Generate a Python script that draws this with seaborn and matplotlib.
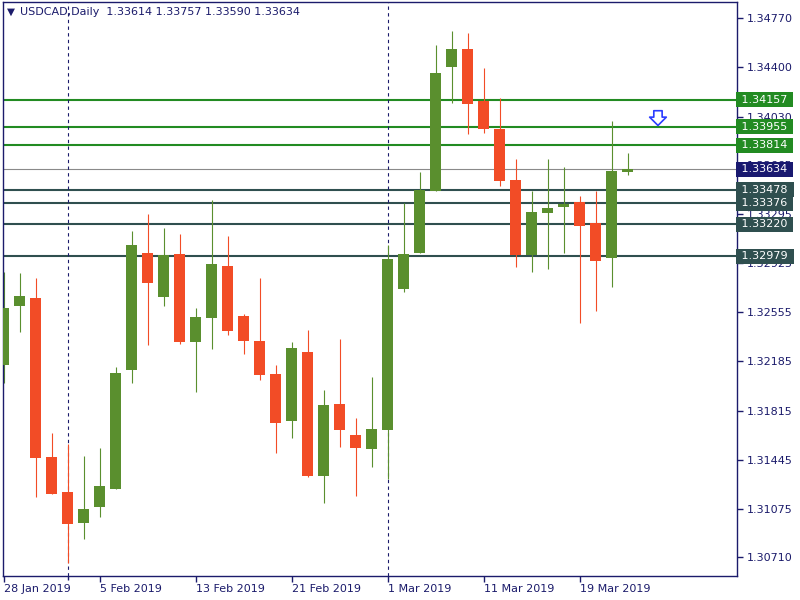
import numpy as np
import pandas as pd
import matplotlib
matplotlib.use("Agg")
import matplotlib.pyplot as plt
import seaborn as sns

# daily candles, 28 Jan - 22 Mar 2019
dates = pd.bdate_range("2019-01-28", "2019-03-22")

opens = [1.32161, 1.32605, 1.32663, 1.31466, 1.31202, 1.30965, 1.31091, 1.31227, 1.32123, 1.33002,
         1.32673, 1.32995, 1.32334, 1.32515, 1.32904, 1.32528, 1.32339, 1.32091, 1.31739, 1.32257,
         1.31325, 1.31865, 1.31631, 1.31528, 1.31671, 1.32733, 1.33000, 1.33472, 1.34405, 1.34539,
         1.34147, 1.33938, 1.33552, 1.32987, 1.33301, 1.33346, 1.33386, 1.33228, 1.32967, 1.33614]
highs = [1.32861, 1.32854, 1.32816, 1.31649, 1.31564, 1.31476, 1.31536, 1.32141, 1.33168, 1.33298,
         1.33191, 1.33145, 1.32588, 1.33401, 1.33130, 1.32543, 1.32816, 1.32159, 1.32332, 1.32422,
         1.31970, 1.32355, 1.31762, 1.32068, 1.33063, 1.33377, 1.33612, 1.34569, 1.34674, 1.34659,
         1.34396, 1.34167, 1.33710, 1.33472, 1.33710, 1.33652, 1.33432, 1.33472, 1.33997, 1.33757]
lows = [1.32021, 1.32409, 1.31167, 1.31185, 1.30670, 1.30850, 1.31014, 1.31227, 1.32025, 1.32312,
        1.32605, 1.32319, 1.31958, 1.32281, 1.32387, 1.32244, 1.32048, 1.31498, 1.31611, 1.31317,
        1.31122, 1.31543, 1.31174, 1.31393, 1.31298, 1.32711, 1.33000, 1.33472, 1.34134, 1.33901,
        1.33908, 1.33509, 1.32899, 1.32861, 1.32884, 1.33005, 1.32477, 1.32568, 1.32748, 1.33590]
closes = [1.32586, 1.32678, 1.31460, 1.31189, 1.30963, 1.31074, 1.31247, 1.32098, 1.33063, 1.32779,
          1.32987, 1.32332, 1.32520, 1.32919, 1.32417, 1.32342, 1.32086, 1.31724, 1.32287, 1.31325,
          1.31857, 1.31671, 1.31536, 1.31677, 1.32957, 1.32995, 1.33477, 1.34358, 1.34539, 1.34127,
          1.33938, 1.33547, 1.32987, 1.33311, 1.33341, 1.33371, 1.33208, 1.32944, 1.33620, 1.33634]

# horizontal levels
resistance = [1.34157, 1.33955, 1.33814]
support = [1.33478, 1.33376, 1.33220, 1.32979]
last_price = 1.33634

# price scale labels as shown by the terminal
price_ticks = [1.34770, 1.34400, 1.34030, 1.33665, 1.33295, 1.32925,
               1.32555, 1.32185, 1.31815, 1.31445, 1.31075, 1.30710]
date_tick_idx = [0, 6, 12, 18, 24, 30, 36]
month_sep_idx = [4, 24]

# sell arrow
arrow_x = 40.9
arrow_top, arrow_tip = 1.34095, 1.33942

df = pd.DataFrame({"date": dates, "open": opens, "high": highs, "low": lows, "close": closes})
df["x"] = np.arange(len(df))
df["up"] = df["close"] >= df["open"]

sns.set_style("white")
plt.rcParams["font.family"] = ["DejaVu Sans"]

navy = "#1b1b6b"
up_col = "#5a8f2e"
down_col = "#f24c26"
res_col = "#228b22"
sup_col = "#2f4f4f"
last_col = "#191970"

fig = plt.figure(figsize=(8, 6), dpi=100)
ax = fig.add_axes([3 / 800, 24 / 600, 734 / 800, 574 / 600])

# levels under the candles
for v in resistance:
    ax.axhline(v, color=res_col, lw=1.5, zorder=1)
for v in support:
    ax.axhline(v, color=sup_col, lw=1.5, zorder=1)
ax.axhline(last_price, color="#8a8a8a", lw=0.8, zorder=1)
for i in month_sep_idx:
    ax.axvline(i, color=navy, lw=0.8, ls=(0, (3, 3)), zorder=1)

colors = np.where(df["up"], up_col, down_col)
ax.vlines(df["x"], df["low"], df["high"], colors=colors, lw=0.8, zorder=2)
body_lo = df[["open", "close"]].min(axis=1)
body_h = (df["close"] - df["open"]).abs()
ax.bar(df["x"], body_h, bottom=body_lo, width=0.69, color=colors, lw=0, zorder=3)

ax.annotate("", xy=(arrow_x, arrow_tip), xytext=(arrow_x, arrow_top),
            arrowprops=dict(arrowstyle="simple,head_width=1.2,head_length=0.6,tail_width=0.6",
                            fc="white", ec="#2b3cff", lw=1.2), zorder=4)

ax.set_xlim(-0.04, 45.84)
ax.set_ylim(1.30569, 1.34893)

ax.yaxis.tick_right()
ax.set_yticks(price_ticks)
ax.set_yticklabels([f"{t:.5f}" for t in price_ticks])
ax.set_xticks(date_tick_idx)
ax.set_xticklabels([df["date"][i].strftime("%-d %b %Y") for i in date_tick_idx], ha="left")
ax.set_xticks(month_sep_idx, minor=True)
ax.tick_params(axis="y", which="both", direction="out", length=4, width=1, color=navy,
               labelcolor=navy, labelsize=8, pad=3, right=True, left=False)
ax.tick_params(axis="x", which="major", direction="out", length=4, width=1, color=navy,
               labelcolor=navy, labelsize=8, pad=2, bottom=True)
ax.tick_params(axis="x", which="minor", direction="out", length=3, width=1, color=navy, bottom=True)
for s in ax.spines.values():
    s.set_color(navy)
    s.set_linewidth(1)

# level boxes on the price scale (they cover the scale labels behind them, as in the terminal)
ytr = ax.get_yaxis_transform()
for vals, c in [(resistance, res_col), (support, sup_col), ([last_price], last_col)]:
    for v in vals:
        ax.text(1.0015, v, f" {v:.5f} ", transform=ytr, ha="left", va="center", color="white",
                fontsize=8, clip_on=False, zorder=5,
                bbox=dict(boxstyle="square,pad=0.22", fc=c, ec="none"))

ax.text(0.005, 0.9826, "\u25bc", transform=ax.transAxes, fontsize=7.5, color=navy, va="center")
ax.text(0.0225, 0.9826, f"USDCAD,Daily  {opens[-1]:.5f} {highs[-1]:.5f} {lows[-1]:.5f} {closes[-1]:.5f}",
        transform=ax.transAxes, fontsize=8, color=navy, va="center")

fig.savefig("out.png", dpi=100)
